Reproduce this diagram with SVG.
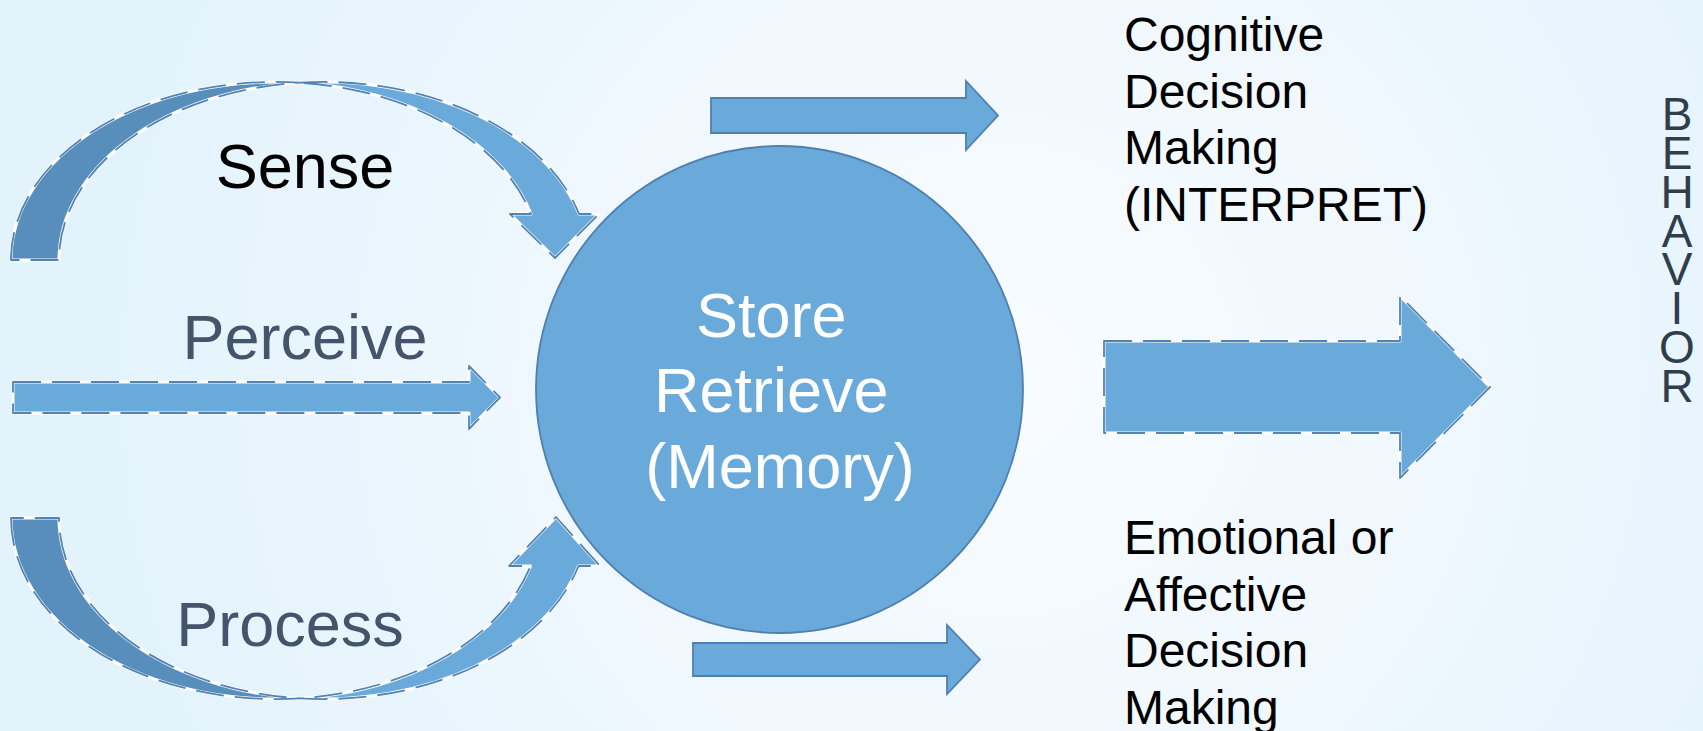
<svg xmlns="http://www.w3.org/2000/svg" width="1703" height="731" viewBox="0 0 1703 731">
<defs>
<radialGradient id="bg" cx="1000" cy="380" r="900" gradientUnits="userSpaceOnUse">
<stop offset="0" stop-color="#f8fcff"/>
<stop offset="0.45" stop-color="#f0f8fe"/>
<stop offset="1" stop-color="#e3f3fc"/>
</radialGradient>
</defs>
<style>
.light{fill:#6aaadb}
.dark{fill:#588ebb}
.halo{fill:none;stroke:#ffffff;stroke-width:3;stroke-linejoin:round}
.dash{fill:none;stroke:#5283b3;stroke-width:1.8;stroke-dasharray:28 11;stroke-linejoin:round}
.solid{stroke:#4f7fae;stroke-width:1.8}
.lbl{font-family:"Liberation Sans",Arial,sans-serif;font-size:63px}
.side{font-family:"Liberation Sans",Arial,sans-serif;font-size:48px;fill:#000000}
.beh{font-family:"Liberation Sans",Arial,sans-serif;font-size:46px;fill:#2f3d4c;writing-mode:vertical-lr;text-orientation:upright}
</style>
<rect x="0" y="0" width="1703" height="731" fill="url(#bg)"/>

<g id="connectors">
  <g id="sense-arrow">
    <path id="sense-back" d="M 11 260 A 264.5 178 0 0 1 299.5 82.7 A 264.5 178 0 0 0 59 260 Z" class="dark"/>
    <path id="sense-front" d="M 299.5 82.7 A 264.5 178 0 0 1 579 214 L 599 214 L 555 258 L 510 214 L 531 214 A 264.5 178 0 0 0 299.5 82.7 Z" class="light"/>
    <path d="M 11 260 A 264.5 178 0 0 1 299.5 82.7 A 264.5 178 0 0 0 59 260 Z" class="halo"/>
    <path d="M 299.5 82.7 A 264.5 178 0 0 1 579 214 L 599 214 L 555 258 L 510 214 L 531 214 A 264.5 178 0 0 0 299.5 82.7 Z" class="halo"/>
    <path d="M 11 260 A 264.5 178 0 0 1 299.5 82.7 A 264.5 178 0 0 0 59 260 Z" class="dash"/>
    <path d="M 299.5 82.7 A 264.5 178 0 0 1 579 214 L 599 214 L 555 258 L 510 214 L 531 214 A 264.5 178 0 0 0 299.5 82.7 Z" class="dash"/>
  </g>
  <g id="perceive-arrow">
    <path d="M 13 382 H 469 V 366 L 500 397.5 L 469 429 V 413 H 13 Z" class="light"/>
    <path d="M 13 382 H 469 V 366 L 500 397.5 L 469 429 V 413 H 13 Z" class="halo"/>
    <path d="M 13 382 H 469 V 366 L 500 397.5 L 469 429 V 413 H 13 Z" class="dash"/>
  </g>
  <g id="process-arrow">
    <path d="M 11 518 A 264.5 181 0 0 0 299.5 698.3 A 264.5 181 0 0 1 59 518 Z" class="dark"/>
    <path d="M 299.5 698.3 A 264.5 181 0 0 0 578.5 566 L 600 566 L 556 517 L 509 566 L 530.5 566 A 264.5 181 0 0 1 299.5 698.3 Z" class="light"/>
    <path d="M 11 518 A 264.5 181 0 0 0 299.5 698.3 A 264.5 181 0 0 1 59 518 Z" class="halo"/>
    <path d="M 299.5 698.3 A 264.5 181 0 0 0 578.5 566 L 600 566 L 556 517 L 509 566 L 530.5 566 A 264.5 181 0 0 1 299.5 698.3 Z" class="halo"/>
    <path d="M 11 518 A 264.5 181 0 0 0 299.5 698.3 A 264.5 181 0 0 1 59 518 Z" class="dash"/>
    <path d="M 299.5 698.3 A 264.5 181 0 0 0 578.5 566 L 600 566 L 556 517 L 509 566 L 530.5 566 A 264.5 181 0 0 1 299.5 698.3 Z" class="dash"/>
  </g>
  <g id="cognitive-arrow">
    <path d="M 711 98 H 966 V 81 L 998 115.5 L 966 150 V 133 H 711 Z" class="light solid"/>
  </g>
  <g id="emotional-arrow">
    <path d="M 693 643 H 947 V 625 L 980 659.5 L 947 694 V 676 H 693 Z" class="light solid"/>
  </g>
  <g id="behavior-arrow">
    <path d="M 1104 341 H 1400 V 296 L 1490 387 L 1400 478 V 433 H 1104 Z" class="light"/>
    <path d="M 1104 341 H 1400 V 296 L 1490 387 L 1400 478 V 433 H 1104 Z" class="halo"/>
    <path d="M 1104 341 H 1400 V 296 L 1490 387 L 1400 478 V 433 H 1104 Z" class="dash"/>
  </g>
</g>

<g id="node-sense"><text x="305" y="188" class="lbl" fill="#000000" text-anchor="middle">Sense</text></g>
<g id="node-perceive"><text x="305" y="359" class="lbl" fill="#44546a" text-anchor="middle">Perceive</text></g>
<g id="node-process"><text x="290" y="646" class="lbl" fill="#44546a" text-anchor="middle">Process</text></g>

<g id="node-memory">
  <circle cx="779.5" cy="389.5" r="243.5" fill="#6aaadb" stroke="#4f7fae" stroke-width="1.8"/>
  <text class="lbl" fill="#ffffff" text-anchor="middle">
    <tspan x="780" y="337">Store</tspan>
    <tspan x="780" y="412">Retrieve</tspan>
    <tspan x="780" y="488">(Memory)</tspan>
  </text>
</g>

<g id="node-cognitive">
  <text class="side">
    <tspan x="1124" y="51">Cognitive</tspan>
    <tspan x="1124" y="107.7">Decision</tspan>
    <tspan x="1124" y="164.4">Making</tspan>
    <tspan x="1124" y="221">(INTERPRET)</tspan>
  </text>
</g>

<g id="node-emotional">
  <text class="side">
    <tspan x="1124" y="554">Emotional or</tspan>
    <tspan x="1124" y="610.7">Affective</tspan>
    <tspan x="1124" y="667.4">Decision</tspan>
    <tspan x="1124" y="724">Making</tspan>
  </text>
</g>

<g id="node-behavior">
  <text class="beh" x="1677" y="88" textLength="324" lengthAdjust="spacing">BEHAVIOR</text>
</g>
</svg>
